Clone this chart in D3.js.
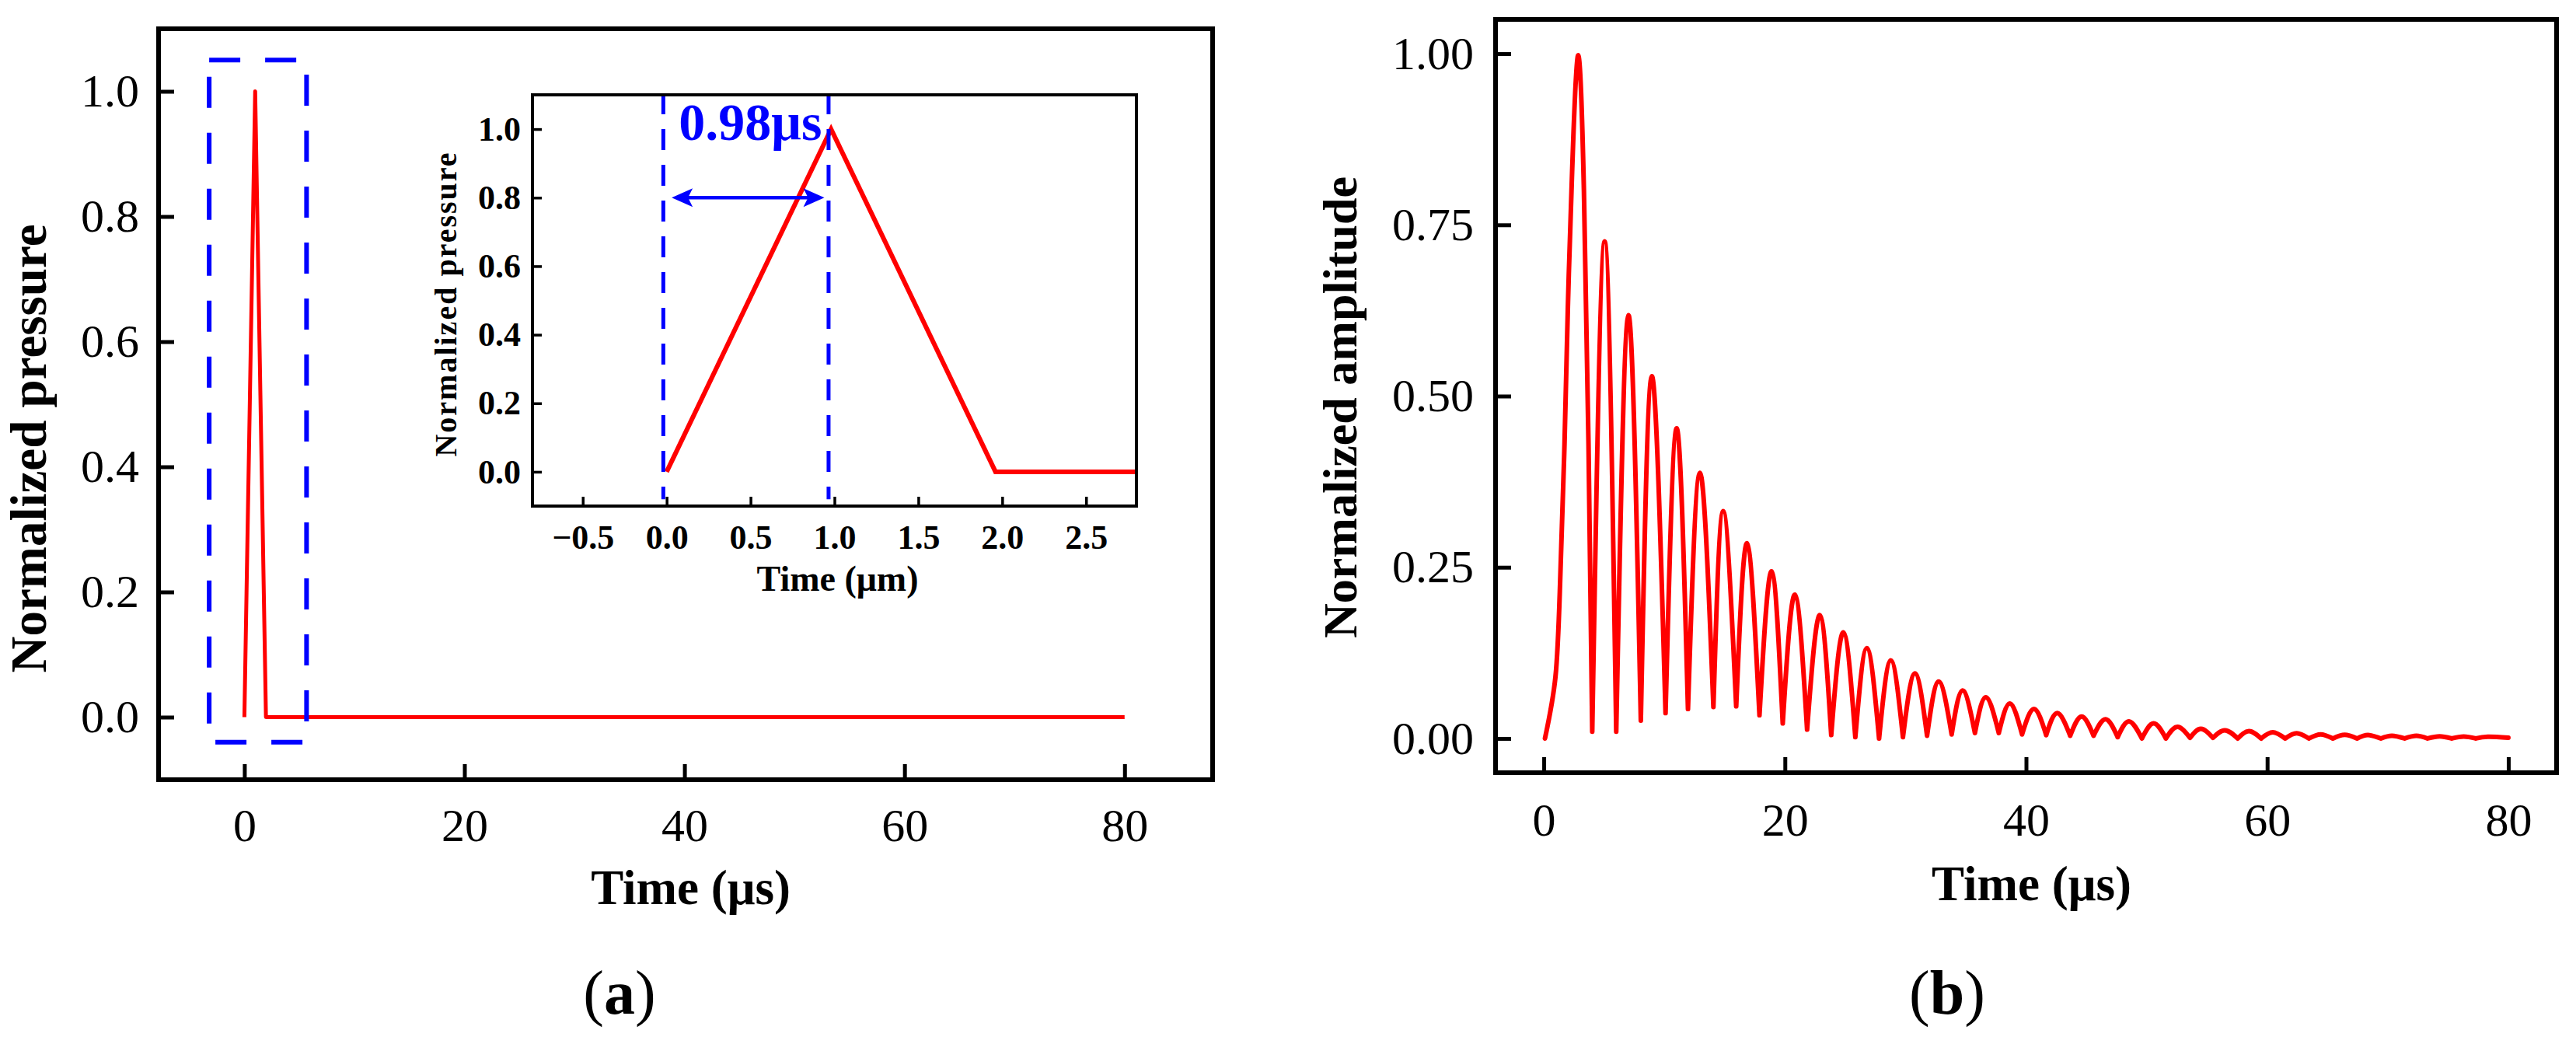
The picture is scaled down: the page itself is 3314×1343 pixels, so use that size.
<!DOCTYPE html>
<html lang="en">
<head>
<meta charset="UTF-8">
<title>Normalized pressure and amplitude</title>
<script src="https://cdn.jsdelivr.net/npm/d3@7"></script>
<style>
  body{margin:0;background:#fff;}
  text{font-family:"Liberation Serif","Times New Roman",serif;fill:#000;}
</style>
</head>
<body>
<svg id="chart" width="3314" height="1343"></svg>
<script>
// ---- (a) excitation pulse ----
let pulseTime=[0,0.98,1.96,80]
let pulseValue=[0,1,0,0]
let pulseXTicks=[0,20,40,60,80]
let pulseYTicks=[0,0.2,0.4,0.6,0.8,1.0]
let insetXTicks=[-0.5,0,0.5,1,1.5,2,2.5]
let insetYTicks=[0,0.2,0.4,0.6,0.8,1.0]
let zoomBoxX=[-3.2,5.65]
let zoomBoxY=[-0.04,1.05]
let riseMarks=[-0.02,0.965]
let riseArrowX=[0.03,0.94]
let riseArrowY=0.8
let riseLabel="0.98μs"

// ---- (b) received signal ----
let firstLobeTime=[0.1,0.97,1.35,1.72,2.0,2.3,2.83,3.33,3.71,4.02]
let firstLobeValue=[0,0.09,0.225,0.43,0.63,0.80,0.997,0.80,0.43,0.01]
let peakTime=[5.05,7.02,8.96,11.02,12.95,14.88,16.86,18.9,20.83,22.9,24.85,26.8,28.78,30.78,32.75,34.73,36.66,38.66,40.66,42.59,44.61,46.6,48.54,50.58,52.55,54.5,56.49,58.48,60.46,62.44,64.43,66.43,68.36,70.34,72.37,74.3,76.3,78.3]
let peakValue=[0.726,0.618,0.529,0.453,0.388,0.332,0.285,0.244,0.21,0.18,0.155,0.132,0.114,0.095,0.083,0.07,0.06,0.051,0.043,0.037,0.032,0.028,0.025,0.022,0.017,0.014,0.012,0.0106,0.009,0.0076,0.006,0.0053,0.005,0.004,0.0038,0.003,0.0028,0.0025]
let troughTime=[6.01,8.05,10.1,11.96,14.07,15.96,17.89,19.82,21.84,23.84,25.84,27.81,29.79,31.79,33.83,35.76,37.74,39.67,41.67,43.66,45.6,47.6,49.61,51.6,53.6,55.5,57.56,59.5,61.49,63.46,65.45,67.45,69.43,71.4,73.3,75.3,77.3,80]
let troughValue=[0.01,0.026,0.037,0.043,0.046,0.047,0.034,0.022,0.013,0.005,0.002,0,0.002,0.004,0.006,0.008,0.008,0.006,0.005,0.004,0.004,0.002,0,0,0.001,0.001,0,0,0,0,0,0,0,0,0,0,0,0.001]
let ampXTicks=[0,20,40,60,80]
let ampYTicks=[0,0.25,0.5,0.75,1.0]

let svg=d3.select("#chart")
let serif='"Liberation Serif","Times New Roman",serif'

function frame(g,w,h,sw,fill){
    g.append("rect").attr("width",w).attr("height",h)
        .attr("fill",fill||"none").attr("stroke","#000").attr("stroke-width",sw)
}

function axes(g,x,y,o){
    let h=y.range()[0]
    let xa=g.append("g").attr("transform","translate(0,"+h+")")
        .call(d3.axisBottom(x).tickValues(o.xt).tickFormat(o.xf).tickSize(-o.tick).tickPadding(o.xpad))
    let ya=g.append("g")
        .call(d3.axisLeft(y).tickValues(o.yt).tickFormat(o.yf).tickSize(-o.tick).tickPadding(o.ypad))
    for(let a of [xa,ya]){
        a.select(".domain").remove()
        a.selectAll(".tick line").attr("stroke","#000").attr("stroke-width",o.tw)
        a.selectAll(".tick text").attr("fill","#000").style("font-family",serif)
            .style("font-size",o.fs+"px").style("font-weight",o.fw||"normal")
    }
}

// ================= panel (a) =================
let aL=204,aT=37,aW=1356,aH=966
let ga=svg.append("g").attr("transform","translate("+aL+","+aT+")")
let xa=d3.scaleLinear().domain([-7.8,88]).range([0,aW])
let ya=d3.scaleLinear().domain([-0.1,1.1]).range([aH,0])
axes(ga,xa,ya,{xt:pulseXTicks,yt:pulseYTicks,xf:d3.format("d"),yf:d3.format(".1f"),
    tick:20,tw:5,xpad:36,ypad:25,fs:60})

let pulse=pulseTime.map((t,i)=>[t,pulseValue[i]])
let pulseLine=d3.line().x(d=>xa(d[0])).y(d=>ya(d[1]))
ga.append("path").datum(pulse).attr("d",pulseLine)
    .attr("fill","none").attr("stroke","#ff0000").attr("stroke-width",5).attr("stroke-linejoin","round")

// dashed zoom box
ga.append("rect")
    .attr("x",xa(zoomBoxX[0])).attr("y",ya(zoomBoxY[1]))
    .attr("width",xa(zoomBoxX[1])-xa(zoomBoxX[0]))
    .attr("height",ya(zoomBoxY[0])-ya(zoomBoxY[1]))
    .attr("fill","none").attr("stroke","#0000ff").attr("stroke-width",6)
    .attr("stroke-dasharray","40,32")
frame(ga,aW,aH,6)

ga.append("text").attr("x",xa(40)+8).attr("y",1163-aT)
    .attr("text-anchor","middle").style("font-size","63px").style("font-weight","bold")
    .text("Time (μs)")
svg.append("text").attr("transform","translate(59,577) rotate(-90)")
    .attr("text-anchor","middle").style("font-size","65px").style("font-weight","bold")
    .text("Normalized pressure")

// inset
let iL=685,iT=122,iW=777,iH=529
let gi=svg.append("g").attr("transform","translate("+iL+","+iT+")")
gi.append("rect").attr("width",iW).attr("height",iH).attr("fill","#fff")
let xi=d3.scaleLinear().domain([-0.8,2.8]).range([0,iW])
let yi=d3.scaleLinear().domain([-0.1,1.1]).range([iH,0])
axes(gi,xi,yi,{xt:insetXTicks,yt:insetYTicks,xf:d3.format(".1f"),yf:d3.format(".1f"),
    tick:12,tw:3.5,xpad:24,ypad:15,fs:44,fw:"bold"})
gi.append("clipPath").attr("id","insetClip").append("rect").attr("width",iW).attr("height",iH)
let insetLine=d3.line().x(d=>xi(d[0])).y(d=>yi(d[1]))
gi.append("path").datum(pulse).attr("d",insetLine).attr("clip-path","url(#insetClip)")
    .attr("fill","none").attr("stroke","#ff0000").attr("stroke-width",6).attr("stroke-linejoin","miter")

gi.selectAll(".rise").data(riseMarks).join("line")
    .attr("x1",d=>xi(d)).attr("x2",d=>xi(d))
    .attr("y1",yi(1.1)-2).attr("y2",yi(-0.08))
    .attr("stroke","#0000ff").attr("stroke-width",5).attr("stroke-dasharray","27,19")

let ay=yi(riseArrowY),ax0=xi(riseArrowX[0]),ax1=xi(riseArrowX[1])
gi.append("line").attr("x1",ax0+10).attr("x2",ax1-10).attr("y1",ay).attr("y2",ay)
    .attr("stroke","#0000ff").attr("stroke-width",4.5)
gi.append("path").attr("fill","#0000ff")
    .attr("d","M"+ax0+","+ay+"L"+(ax0+27)+","+(ay-12)+"L"+(ax0+21)+","+ay+"L"+(ax0+27)+","+(ay+12)+"Z"
        +"M"+ax1+","+ay+"L"+(ax1-27)+","+(ay-12)+"L"+(ax1-21)+","+ay+"L"+(ax1-27)+","+(ay+12)+"Z")
gi.append("text").attr("x",xi(riseMarks[0])+20).attr("y",180-iT)
    .style("font-size","68px").style("font-weight","bold").style("fill","#0000ff")
    .text(riseLabel)
frame(gi,iW,iH,4)

gi.append("text").attr("x",iW/2+4).attr("y",760-iT)
    .attr("text-anchor","middle").style("font-size","46px").style("font-weight","bold")
    .text("Time (μm)")
svg.append("text").attr("transform","translate(587,391) rotate(-90)")
    .attr("text-anchor","middle").style("font-size","40px").style("font-weight","bold")
    .style("letter-spacing","2px")
    .text("Normalized pressure")

// ================= panel (b) =================
let bL=1924,bT=25,bW=1365,bH=969
let gb=svg.append("g").attr("transform","translate("+bL+","+bT+")")
let xb=d3.scaleLinear().domain([-4,84]).range([0,bW])
let yb=d3.scaleLinear().domain([-0.05,1.05]).range([bH,0])
axes(gb,xb,yb,{xt:ampXTicks,yt:ampYTicks,xf:d3.format("d"),yf:d3.format(".2f"),
    tick:20,tw:5,xpad:38,ypad:28,fs:60})

// one arch per oscillation, joined at the troughs
let lobes=[firstLobeTime.map((t,i)=>[t,firstLobeValue[i]])]
let prev=lobes[0][lobes[0].length-1]
peakTime.forEach((t,i)=>{
    let cur=[troughTime[i],troughValue[i]]
    lobes.push([prev,[t,peakValue[i]],cur])
    prev=cur
})
let ampLine=d3.line().x(d=>xb(d[0])).y(d=>yb(d[1])).curve(d3.curveNatural)
gb.append("path").attr("d",lobes.map(l=>ampLine(l)).join(""))
    .attr("fill","none").attr("stroke","#ff0000").attr("stroke-width",6)
    .attr("stroke-linejoin","round").attr("stroke-linecap","round")
frame(gb,bW,bH,6)

gb.append("text").attr("x",xb(40)+7).attr("y",1158-bT)
    .attr("text-anchor","middle").style("font-size","63px").style("font-weight","bold")
    .text("Time (μs)")
svg.append("text").attr("transform","translate(1745,524) rotate(-90)")
    .attr("text-anchor","middle").style("font-size","62px").style("font-weight","bold")
    .text("Normalized amplitude")

// captions
let captions=[["a",797],["b",2505]]
captions.forEach(c=>{
    let t=svg.append("text").attr("x",c[1]).attr("y",1304).attr("text-anchor","middle")
        .style("font-size","80px")
    t.append("tspan").text("(")
    t.append("tspan").style("font-weight","bold").text(c[0])
    t.append("tspan").text(")")
})
</script>
</body>
</html>
